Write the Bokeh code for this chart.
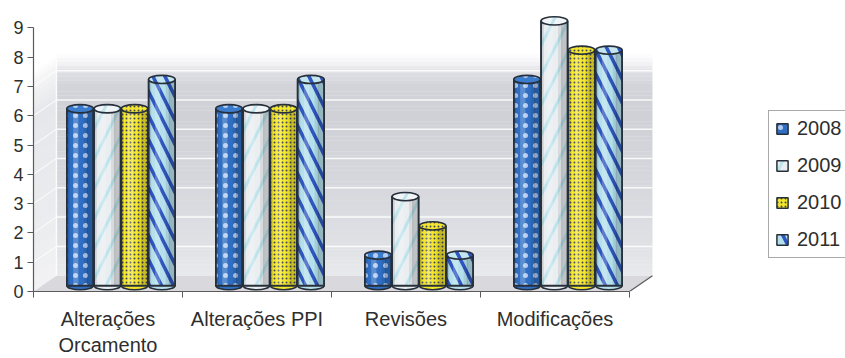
import numpy as np
from bokeh.plotting import figure
from bokeh.models import Range1d, FixedTicker, Legend, LegendItem
from bokeh.embed import file_html
from bokeh.resources import INLINE

# ---- data ----
categories = ["Alterações\nOrcamento", "Alterações PPI", "Revisões", "Modificações"]
series_names = ["2008", "2009", "2010", "2011"]
y2008 = [6, 6, 1, 7]
y2009 = [6, 6, 3, 9]
y2010 = [6, 6, 2, 8]
y2011 = [7, 7, 1, 8]
y_ticks = list(range(10))

series_vals = [y2008, y2009, y2010, y2011]

# ---- styles ----
styles = [
    dict(fill="#2f6ec2", top="#3c7ccd", hatch="dot", hcolor="#dfe9ff", hscale=10, hweight=0.7, halpha=0.75),
    dict(fill="#eaeef1", top="#f2f5f7", hatch="right_diagonal_line", hcolor="#a9dfe9", hscale=30, hweight=3, halpha=0.7),
    dict(fill="#f4e62c", top="#f4e62c", hatch="dot", hcolor="#2e3560", hscale=4, hweight=1.5, halpha=0.9),
    dict(fill="#b4dfeb", top="#c4e6ef", hatch="left_diagonal_line", hcolor="#2f55c0", hscale=24, hweight=3.5, halpha=1.0),
]

FONT = "Liberation Sans"
TXT = "#2e2e2e"
AX = "#5a5a5a"

x_end = 812 / 149.0
p = figure(width=845, height=358, output_backend="svg", toolbar_location=None,
           x_range=Range1d(0, x_end), y_range=Range1d(0, 9.8),
           min_border_left=33, min_border_right=0, min_border_top=4, min_border_bottom=63)
p.outline_line_color = None
p.background_fill_color = "white"
p.border_fill_color = "white"
p.grid.visible = False

dx, dy = 0.154, 0.54  # 3D depth offset in data units

def hex2rgb(h):
    h = h.lstrip("#")
    return np.array([int(h[i:i + 2], 16) for i in (0, 2, 4)], dtype=float)

def interp(stops, v):
    for (a, ca), (b, cb) in zip(stops[:-1], stops[1:]):
        if a <= v <= b:
            t = (v - a) / (b - a)
            c = hex2rgb(ca) * (1 - t) + hex2rgb(cb) * t
            return "#%02x%02x%02x" % tuple(int(round(x)) for x in c)
    return stops[-1][1]

wall_stops = [(dy, "#e9e9ec"), (1.6, "#e0e1e5"), (3.5, "#d7d8dd"), (6.0, "#d0d1d7"),
              (7.0, "#d3d4da"), (7.45, "#dddee3"), (7.8, "#f3f3f6"), (8.1, "#ffffff")]
side_stops = [(dy, "#f2f2f4"), (3.0, "#eaebee"), (6.5, "#e6e7eb"), (7.6, "#f4f4f6"), (8.1, "#ffffff")]

edges = np.linspace(dy, 8.1, 60)
mids = (edges[:-1] + edges[1:]) / 2
p.quad(left=dx, right=4 + dx, bottom=edges[:-1], top=edges[1:] + 0.01,
       fill_color=[interp(wall_stops, m) for m in mids], line_color=None)
p.patches(xs=[[0, dx, dx, 0] for _ in mids],
          ys=[[e0 - dy, e0, e1 + 0.01, e1 + 0.01 - dy] for e0, e1 in zip(edges[:-1], edges[1:])],
          fill_color=[interp(side_stops, m) for m in mids], line_color=None)

# wall grid lines
gl = [v for v in y_ticks if 1 <= v <= 7]
p.segment(x0=[dx] * len(gl), y0=[v + dy for v in gl], x1=[4 + dx] * len(gl), y1=[v + dy for v in gl],
          line_color="white", line_width=1.5, line_alpha=0.85)
p.segment(x0=[0] * len(gl), y0=gl, x1=[dx] * len(gl), y1=[v + dy for v in gl],
          line_color="white", line_width=1.2, line_alpha=0.7)
p.segment(x0=[dx], y0=[dy], x1=[dx], y1=[7.9], line_color="white", line_width=1.5, line_alpha=0.8)

# floor
p.patch(x=[0, 4, 4 + dx, dx], y=[0, 0, dy, dy], fill_color="#d9d9dd", line_color=None)
p.segment(x0=[4], y0=[0], x1=[4 + dx], y1=[dy], line_color=AX, line_width=1.2)

# bars (cylinders)
n = len(categories)
goff, pitch, w = 0.087, 0.183, 0.178
base = 0.2
lift = 0.24
eh = 0.28
OUT = "#27303a"
legend_items = []
for s, (vals, st) in enumerate(zip(series_vals, styles)):
    xs = np.arange(n) + 0.5 + goff + (s - 1.5) * pitch
    tops = np.array(vals, dtype=float) + lift
    p.ellipse(x=xs, y=[base] * n, width=w, height=eh, fill_color=st["fill"],
              line_color=OUT, line_width=1.5)
    r = p.vbar(x=xs, width=w, bottom=base, top=tops, fill_color=st["fill"],
               hatch_pattern=st["hatch"], hatch_color=st["hcolor"], hatch_scale=st["hscale"],
               hatch_weight=st["hweight"], hatch_alpha=st["halpha"],
               line_color=OUT, line_width=1.5)
    legend_items.append(LegendItem(label=series_names[s], renderers=[r]))
    # cylinder shading
    p.vbar(x=xs - w * 0.16, width=w * 0.2, bottom=base, top=tops, fill_color="white", fill_alpha=0.22, line_color=None)
    p.vbar(x=xs + w * 0.22, width=w * 0.16, bottom=base, top=tops, fill_color="black", fill_alpha=0.08, line_color=None)
    p.vbar(x=xs + w * 0.38, width=w * 0.24, bottom=base, top=tops, fill_color="black", fill_alpha=0.18, line_color=None)
    p.vbar(x=xs - w * 0.45, width=w * 0.1, bottom=base, top=tops, fill_color="black", fill_alpha=0.12, line_color=None)
    p.vbar(x=xs, width=w, bottom=base, top=tops, fill_color=None, line_color=OUT, line_width=1.6)
    p.ellipse(x=xs, y=tops, width=w, height=eh, fill_color=st["top"],
              hatch_pattern=st["hatch"], hatch_color=st["hcolor"], hatch_scale=st["hscale"],
              hatch_weight=st["hweight"], hatch_alpha=st["halpha"],
              line_color=OUT, line_width=1.6)

# axes
xa = p.xaxis[0]
xa.bounds = (0, 4)
xa.ticker = FixedTicker(ticks=[i + 0.5 for i in range(n)], minor_ticks=list(range(n + 1)))
xa.major_label_overrides = {i + 0.5: c for i, c in enumerate(categories)}
xa.major_tick_out = 0
xa.major_tick_in = 0
xa.minor_tick_out = 6
xa.minor_tick_in = 0
xa.minor_tick_line_color = AX
xa.axis_line_color = AX
xa.axis_line_width = 1.2
xa.major_label_text_font = FONT
xa.major_label_text_font_size = "20px"
xa.major_label_text_color = TXT
xa.major_label_standoff = 10

ya = p.yaxis[0]
ya.bounds = (0, 9)
ya.ticker = FixedTicker(ticks=y_ticks, minor_ticks=[])
ya.major_tick_out = 6
ya.major_tick_in = 0
ya.major_tick_line_color = AX
ya.axis_line_color = AX
ya.axis_line_width = 1.2
ya.major_label_text_font = FONT
ya.major_label_text_font_size = "18px"
ya.major_label_text_color = TXT
ya.major_label_standoff = 4

legend = Legend(items=legend_items, location=(735, 33), orientation="vertical",
                label_text_font=FONT, label_text_font_size="20px", label_text_color=TXT,
                glyph_width=14, glyph_height=13, label_height=20, label_standoff=8,
                spacing=14, padding=6, margin=0,
                border_line_color="#555555", border_line_width=1, background_fill_color="white")
p.add_layout(legend, "center")

open("out.html", "w").write(file_html(p, INLINE))
